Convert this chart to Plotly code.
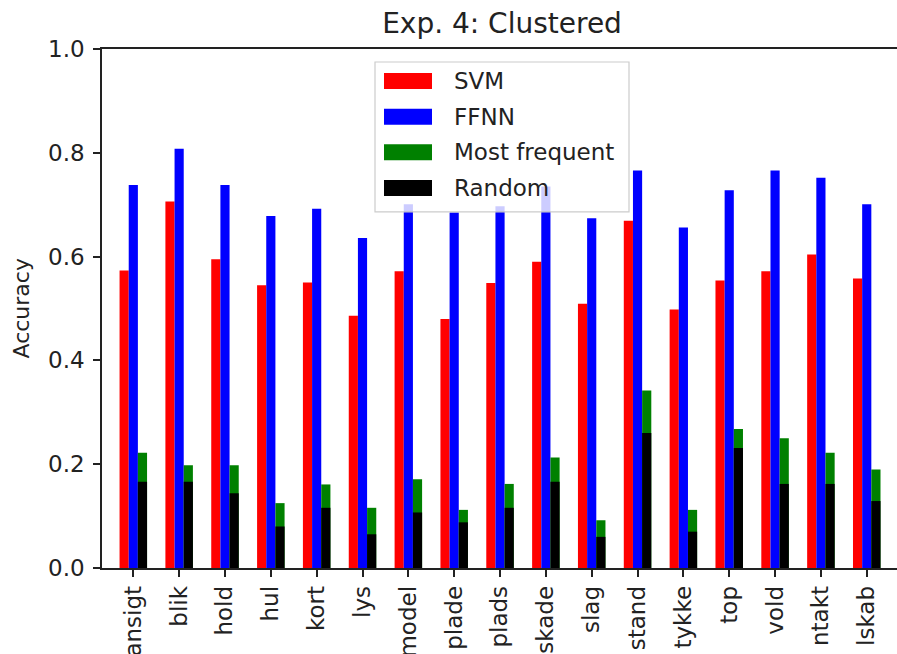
import plotly.graph_objects as go

# Per-word accuracy for each classifier and baseline
words = ["ansigt", "blik", "hold", "hul", "kort", "lys", "model", "plade", "plads",
         "skade", "slag", "stand", "tykke", "top", "vold", "ntakt", "lskab"]
svm = [0.573, 0.706, 0.595, 0.545, 0.550, 0.486, 0.572, 0.480, 0.549,
       0.590, 0.509, 0.669, 0.498, 0.554, 0.572, 0.604, 0.558]
ffnn = [0.738, 0.808, 0.738, 0.678, 0.692, 0.636, 0.701, 0.685, 0.697,
        0.735, 0.674, 0.766, 0.656, 0.728, 0.766, 0.752, 0.701]
most_frequent = [0.222, 0.198, 0.198, 0.125, 0.161, 0.116, 0.171, 0.112, 0.162,
                 0.213, 0.092, 0.342, 0.112, 0.268, 0.250, 0.222, 0.190]
random_baseline = [0.166, 0.166, 0.144, 0.080, 0.116, 0.065, 0.107, 0.088, 0.116,
                   0.166, 0.060, 0.260, 0.070, 0.231, 0.162, 0.162, 0.129]

series_names = ["SVM", "FFNN", "Most frequent", "Random"]
series_colors = ["red", "blue", "green", "black"]
y_ticks = [0.0, 0.2, 0.4, 0.6, 0.8, 1.0]

FONT = "DejaVu Sans"
TXT = "#222222"
W, H = 897, 654
ML, MR, MT, MB = 102, 0, 49, 85.5
PW, PH = W - ML - MR, H - MT - MB


def px_x(x):
    return (x - ML) / PW


def px_y(y):
    return (H - MB - y) / PH


fig = go.Figure()
series = [svm, ffnn, most_frequent, random_baseline]
offsets = [-0.3, -0.1, 0.1, 0.1]
for name, vals, color, off in zip(series_names, series, series_colors, offsets):
    fig.add_trace(go.Bar(
        x=words, y=vals, name=name, width=0.2, offset=off,
        marker=dict(color=color, line=dict(width=0)),
        showlegend=False,
    ))

# Legend box drawn by hand with wide swatches
shapes = [dict(type="rect", xref="paper", yref="paper", layer="above",
               x0=px_x(375), x1=px_x(629), y0=px_y(212), y1=px_y(62),
               line=dict(color="#cccccc", width=1.2),
               fillcolor="rgba(255,255,255,0.8)")]
annotations = []
for i, (name, color) in enumerate(zip(series_names, series_colors)):
    cy = 81 + i * 35.7
    shapes.append(dict(type="rect", xref="paper", yref="paper", layer="above",
                       x0=px_x(384), x1=px_x(432), y0=px_y(cy + 8), y1=px_y(cy - 8),
                       line=dict(width=0), fillcolor=color))
    annotations.append(dict(text=name, xref="paper", yref="paper",
                            x=px_x(452), y=px_y(cy), xanchor="left", yanchor="middle",
                            showarrow=False, font=dict(family=FONT, size=23, color=TXT)))

annotations.append(dict(text="Accuracy", xref="paper", yref="paper",
                        x=px_x(21), y=0.5, xanchor="center", yanchor="middle",
                        textangle=-90, showarrow=False,
                        font=dict(family=FONT, size=22, color=TXT)))

fig.update_layout(
    barmode="overlay",
    width=W, height=H,
    margin=dict(l=ML, r=MR, t=MT, b=MB, autoexpand=False),
    paper_bgcolor="white", plot_bgcolor="white",
    font=dict(family=FONT, size=23, color=TXT),
    title=dict(text="Exp. 4: Clustered", x=px_x(502), xref="paper", xanchor="center",
               y=1 - 23 / H, yanchor="middle",
               font=dict(family=FONT, size=28, color=TXT)),
    shapes=shapes,
    annotations=annotations,
)
fig.update_xaxes(
    type="category", range=[-0.683, 16.66], tickangle=-90,
    ticks="outside", ticklen=7, tickwidth=1.5, tickcolor="#222",
    showline=True, linecolor="#222", linewidth=1.5, mirror=True,
    showgrid=False, zeroline=False, automargin=False,
    tickfont=dict(family=FONT, size=23, color=TXT),
)
fig.update_yaxes(
    range=[0, 1], tickvals=y_ticks, ticktext=[f"{v:.1f}" for v in y_ticks],
    ticks="outside", ticklen=7, tickwidth=1.5, tickcolor="#222",
    ticklabelstandoff=4,
    showline=True, linecolor="#222", linewidth=1.5, mirror=False,
    showgrid=False, zeroline=False, automargin=False,
    tickfont=dict(family=FONT, size=23, color=TXT),
)

fig.write_html("out.html")
